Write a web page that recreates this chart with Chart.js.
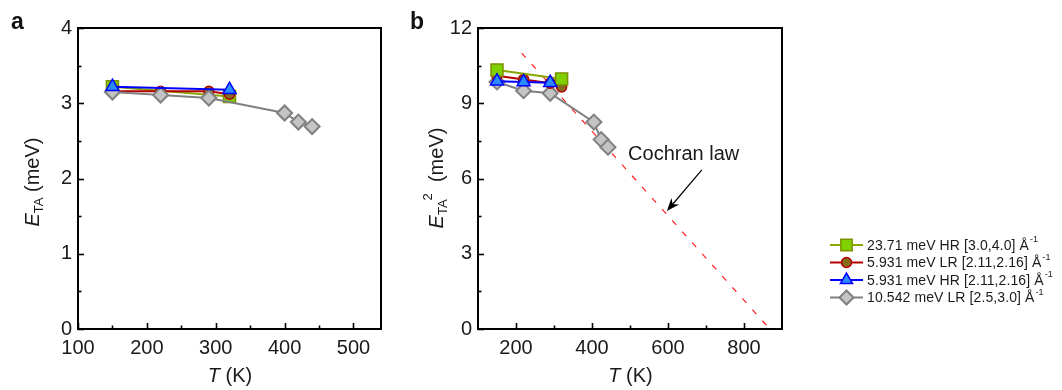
<!DOCTYPE html>
<html><head><meta charset="utf-8">
<script src="https://cdn.jsdelivr.net/npm/chart.js@4.4.1/dist/chart.umd.min.js"></script>
<style>
html,body{margin:0;padding:0;background:#fff;}
#wrap{position:relative;width:1062px;height:390px;overflow:hidden;background:#fff;}
#ca{position:absolute;left:0;top:0;}
#cb{position:absolute;left:400px;top:0;}
</style></head><body>
<div id="wrap"><canvas id="ca" width="400" height="390"></canvas><canvas id="cb" width="662" height="390"></canvas></div>
<script>
// ---------- data ----------
const seriesNames = ["23.71 meV HR [3.0,4.0] Å", "5.931 meV LR [2.11,2.16] Å", "5.931 meV HR [2.11,2.16] Å", "10.542 meV LR [2.5,3.0] Å"];

// panel a : E_TA (meV) vs T (K)
const aT_green = [150, 320];
const aE_green = [3.22, 3.09];
const aT_red = [150, 220, 290, 320];
const aE_red = [3.16, 3.16, 3.16, 3.12];
const aT_blue = [150, 320];
const aE_blue = [3.22, 3.18];
const aT_gray = [150, 220, 290, 400, 420, 440];
const aE_gray = [3.15, 3.11, 3.07, 2.87, 2.75, 2.69];

// panel b : E_TA^2 (meV) vs T (K)
const bT_green = [150, 320];
const bE_green = [10.33, 9.97];
const bT_red = [150, 220, 290, 320];
const bE_red = [10.1, 9.95, 9.8, 9.65];
const bT_blue = [150, 220, 290];
const bE_blue = [9.88, 9.85, 9.82];
const bT_gray = [150, 220, 290, 405, 424, 442];
const bE_gray = [9.85, 9.5, 9.4, 8.25, 7.55, 7.25];
const cochranT = [215, 862];
const cochranE = [11.0, 0.1];

// tick labels
const aXTicks = [100, 200, 300, 400, 500];
const aXMinor = [150, 250, 350, 450];
const aYTicks = [0, 1, 2, 3, 4];
const aYMinor = [0.5, 1.5, 2.5, 3.5];
const bXTicks = [200, 400, 600, 800];
const bXMinor = [300, 500, 700];
const bYTicks = [0, 3, 6, 9, 12];
const bYMinor = [1.5, 4.5, 7.5, 10.5];

// ---------- styles ----------
const FONT = '"Liberation Sans", Arial, sans-serif';
const styles = [
  {line:'#8aa800', fill:'#7fd000', border:'#7e9000', shape:'rect', r:8.5, bw:1.5},
  {line:'#b40000', fill:'#86691c', border:'#b40000', shape:'circle', r:5, bw:1.5},
  {line:'#0000ff', fill:'#2a8cff', border:'#0000ff', shape:'triangle', r:7.5, bw:1.5},
  {line:'#808080', fill:'#c4c4c4', border:'#808080', shape:'rectRot', r:7.5, bw:2}
];
const orderA = [4, 3, 1, 2];
const orderB = [2, 3, 1, 4];

function pts(xs, ys){ return xs.map((x,i)=>({x:x, y:ys[i]})); }
function ds(i, xs, ys, ord){
  const s = styles[i];
  return {label: seriesNames[i], data: pts(xs, ys), showLine:true, borderColor:s.line, borderWidth:2,
    pointStyle:s.shape, pointRadius:s.r, pointHoverRadius:s.r, pointBackgroundColor:s.fill,
    pointBorderColor:s.border, pointBorderWidth:s.bw, order:ord[i], tension:0, clip:false};
}

function drawMarker(ctx, shape, x, y, r){
  ctx.beginPath();
  if (shape === 'rect'){ const s = Math.SQRT1_2*r; ctx.rect(x-s, y-s, 2*s, 2*s); }
  else if (shape === 'circle'){ ctx.arc(x, y, r, 0, Math.PI*2); }
  else if (shape === 'triangle'){
    ctx.moveTo(x, y-r); ctx.lineTo(x+r*Math.sin(2*Math.PI/3), y - r*Math.cos(2*Math.PI/3));
    ctx.lineTo(x+r*Math.sin(4*Math.PI/3), y - r*Math.cos(4*Math.PI/3)); ctx.closePath();
  } else { ctx.moveTo(x, y-r); ctx.lineTo(x+r, y); ctx.lineTo(x, y+r); ctx.lineTo(x-r, y); ctx.closePath(); }
}

function runsWidth(ctx, runs){
  let w = 0;
  runs.forEach(r=>{ ctx.font = r.font; const m = ctx.measureText(r.t).width; w += m + (r.dx||0); });
  return w;
}
function drawRuns(ctx, runs, x, y){
  let cx = x;
  runs.forEach(r=>{ ctx.font = r.font; const m = ctx.measureText(r.t).width; cx += (r.dx||0); ctx.fillText(r.t, cx, y + (r.dy||0)); cx += m; });
}
function drawCentered(ctx, runs, cx, cy, rot){
  ctx.save();
  ctx.translate(cx, cy);
  if (rot) ctx.rotate(rot);
  ctx.textBaseline = 'middle'; ctx.textAlign = 'left'; ctx.fillStyle = '#1a1a1a';
  const w = runsWidth(ctx, runs);
  drawRuns(ctx, runs, -w/2, 0);
  ctx.restore();
}

function axesPlugin(cfg){
  return {
    id: 'axesDeco',
    afterDraw(chart){
      const ctx = chart.ctx, a = chart.chartArea, xs = chart.scales.x, ys = chart.scales.y;
      ctx.save();
      ctx.strokeStyle = '#000'; ctx.lineWidth = 2;
      ctx.strokeRect(a.left, a.top, a.right - a.left, a.bottom - a.top);
      ctx.lineWidth = 1.6;
      const tick = (vals, len, isX)=>{
        vals.forEach(v=>{
          ctx.beginPath();
          if (isX){ const p = Math.round(xs.getPixelForValue(v)) + 0.5; ctx.moveTo(p, a.bottom); ctx.lineTo(p, a.bottom - len); }
          else { const p = Math.round(ys.getPixelForValue(v)) + 0.5; ctx.moveTo(a.left, p); ctx.lineTo(a.left + len, p); }
          ctx.stroke();
        });
      };
      tick(cfg.xMaj, 6, true); tick(cfg.xMin, 3.5, true);
      tick(cfg.yMaj, 6, false); tick(cfg.yMin, 3.5, false);
      drawCentered(ctx, [{t:'T', font:'italic 20px '+FONT}, {t:' (K)', font:'20px '+FONT}], cfg.xTitleX, 376, 0);
      drawCentered(ctx, cfg.yRuns, cfg.yTitleX, cfg.yTitleY, -Math.PI/2);
      ctx.fillStyle = '#111'; ctx.font = 'bold 23px ' + FONT; ctx.textBaseline = 'alphabetic'; ctx.textAlign = 'left';
      ctx.fillText(cfg.letter, cfg.letterX, 29);
      if (cfg.extra) cfg.extra(chart);
      ctx.restore();
    }
  };
}

function makeOptions(xmin, xmax, xt, ymin, ymax, yt, padRight){
  return {
    responsive:false, animation:false, devicePixelRatio:1,
    layout:{padding:{top:28, right:padRight, left:0, bottom:0}},
    plugins:{legend:{display:false}, tooltip:{enabled:false}},
    scales:{
      x:{type:'linear', min:xmin, max:xmax,
        afterBuildTicks:(s)=>{ s.ticks = xt.map(v=>({value:v})); },
        afterFit:(s)=>{ s.height = 61; },
        grid:{display:false, drawTicks:false}, border:{display:false},
        ticks:{padding:7, color:'#1a1a1a', font:{family:FONT, size:20}, maxRotation:0, autoSkip:false}},
      y:{type:'linear', min:ymin, max:ymax,
        afterBuildTicks:(s)=>{ s.ticks = yt.map(v=>({value:v})); },
        afterFit:(s)=>{ s.width = 78; },
        grid:{display:false, drawTicks:false}, border:{display:false},
        ticks:{padding:6, color:'#1a1a1a', font:{family:FONT, size:20}, autoSkip:false}}
    }
  };
}

// ---------- panel a ----------
new Chart(document.getElementById('ca'), {
  type:'scatter',
  data:{datasets:[ds(0,aT_green,aE_green,orderA), ds(1,aT_red,aE_red,orderA), ds(2,aT_blue,aE_blue,orderA), ds(3,aT_gray,aE_gray,orderA)]},
  options: makeOptions(100, 540, aXTicks, 0, 4, aYTicks, 19),
  plugins:[axesPlugin({xMaj:aXTicks, xMin:aXMinor, yMaj:aYTicks, yMin:aYMinor, xTitleX:230, yTitleX:33, yTitleY:182, letter:'a', letterX:11,
    yRuns:[{t:'E', font:'italic 20px '+FONT}, {t:'TA', font:'13px '+FONT, dy:6}, {t:' (meV)', font:'20px '+FONT}]})]
});

// ---------- panel b ----------
const cochranLabel = {t:'Cochran law', T:495, E:6.94};
const arrowFrom = {T:689, E:6.34};
const arrowTo = {T:597, E:4.70};

function panelBExtra(chart){
  const ctx = chart.ctx, xs = chart.scales.x, ys = chart.scales.y;
  ctx.fillStyle = '#1a1a1a'; ctx.font = '20px ' + FONT; ctx.textBaseline = 'middle'; ctx.textAlign = 'left';
  ctx.fillText(cochranLabel.t, xs.getPixelForValue(cochranLabel.T), ys.getPixelForValue(cochranLabel.E));
  const x1 = xs.getPixelForValue(arrowFrom.T), y1 = ys.getPixelForValue(arrowFrom.E);
  const x2 = xs.getPixelForValue(arrowTo.T), y2 = ys.getPixelForValue(arrowTo.E);
  const ang = Math.atan2(y2 - y1, x2 - x1);
  ctx.strokeStyle = '#000'; ctx.lineWidth = 1.2;
  ctx.beginPath(); ctx.moveTo(x1, y1); ctx.lineTo(x2 - 8*Math.cos(ang), y2 - 8*Math.sin(ang)); ctx.stroke();
  ctx.fillStyle = '#000'; ctx.beginPath();
  ctx.moveTo(x2, y2);
  ctx.lineTo(x2 - 13*Math.cos(ang) + 5*Math.sin(ang), y2 - 13*Math.sin(ang) - 5*Math.cos(ang));
  ctx.lineTo(x2 - 9*Math.cos(ang), y2 - 9*Math.sin(ang));
  ctx.lineTo(x2 - 13*Math.cos(ang) - 5*Math.sin(ang), y2 - 13*Math.sin(ang) + 5*Math.cos(ang));
  ctx.closePath(); ctx.fill();
  const rowsY = [245, 262.5, 280, 297.5];
  seriesNames.forEach((name, i)=>{
    const s = styles[i], y = rowsY[i];
    ctx.strokeStyle = s.line; ctx.lineWidth = 2;
    ctx.beginPath(); ctx.moveTo(430, y); ctx.lineTo(463, y); ctx.stroke();
    const rr = s.shape === 'circle' ? 5 : (s.shape === 'rect' ? 8 : 7);
    drawMarker(ctx, s.shape, 446.5, y, rr);
    ctx.fillStyle = s.fill; ctx.fill();
    ctx.strokeStyle = s.border; ctx.lineWidth = s.bw; ctx.stroke();
    ctx.fillStyle = '#1a1a1a'; ctx.textBaseline = 'middle'; ctx.textAlign = 'left';
    ctx.save(); ctx.letterSpacing = '0.1px';
    drawRuns(ctx, [{t:name, font:'14px '+FONT}, {t:'-1', font:'9px '+FONT, dy:-6, dx:1}], 467, y + 1);
    ctx.restore();
  });
}

new Chart(document.getElementById('cb'), {
  type:'scatter',
  data:{datasets:[ds(0,bT_green,bE_green,orderB), ds(1,bT_red,bE_red,orderB), ds(2,bT_blue,bE_blue,orderB), ds(3,bT_gray,bE_gray,orderB),
    {label:'Cochran law', data:pts(cochranT, cochranE), showLine:true, borderColor:'#ff2020', borderWidth:1.2,
     borderDash:[6,9], pointRadius:0, order:5, clip:true}]},
  options: makeOptions(100, 900, bXTicks, 0, 12, bYTicks, 280),
  plugins:[axesPlugin({xMaj:bXTicks, xMin:bXMinor, yMaj:bYTicks, yMin:bYMinor, xTitleX:230.5, yTitleX:37, yTitleY:178, letter:'b', letterX:10,
    yRuns:[{t:'E', font:'italic 20px '+FONT},
           {t:'TA', font:'13px '+FONT, dy:6},
           {t:'2', font:'13px '+FONT, dy:-9, dx:-1},
           {t:'  (meV)', font:'20px '+FONT}],
    extra: panelBExtra})]
});
</script>
</body></html>
